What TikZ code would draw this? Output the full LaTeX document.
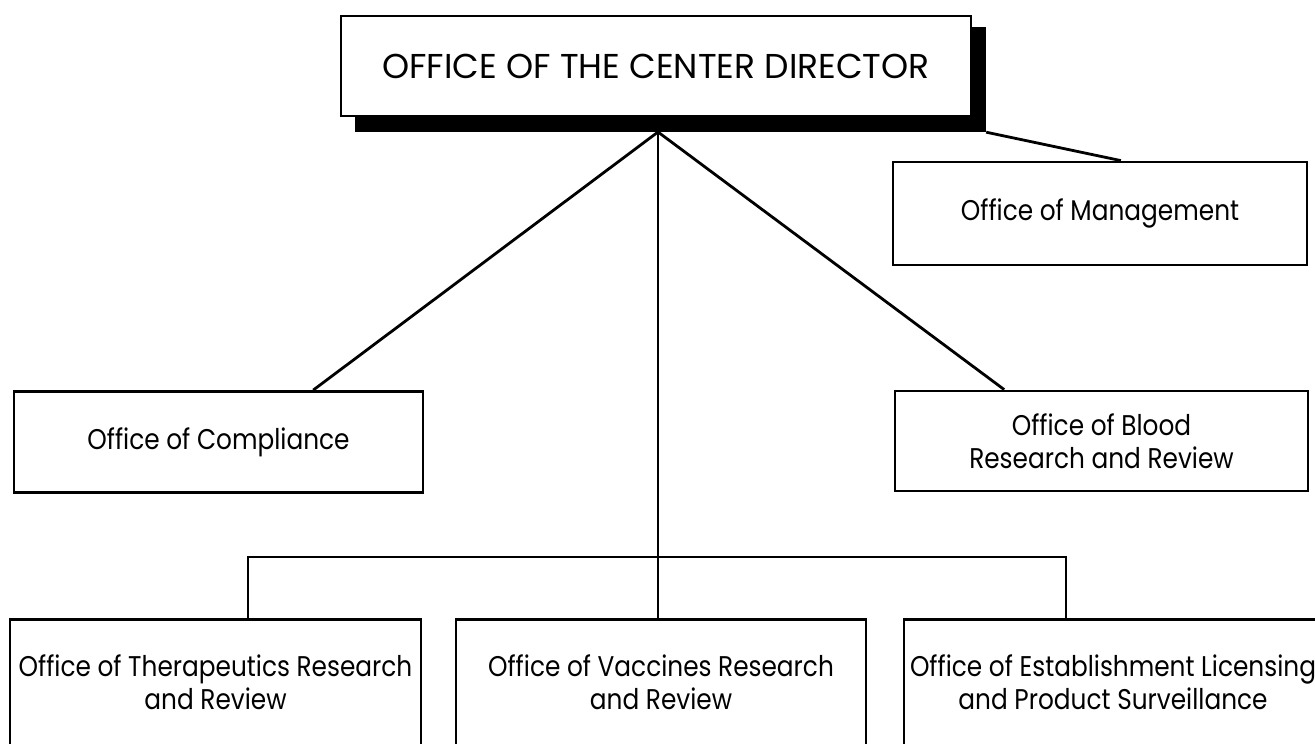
\documentclass[tikz,border=0pt]{standalone}
\usepackage{fontspec}
\setmainfont{Poppins}
\newfontfamily\orgfont[FakeStretch=0.87]{Poppins}
\newfontfamily\headfont[FakeStretch=1.0]{Poppins}
\usetikzlibrary{calc}
\begin{document}
\begin{tikzpicture}[x=1pt,y=-1pt,
  orgbox/.style={draw, line width=2.8pt, fill=white, rectangle, inner sep=0pt,
    align=center, font=\orgfont\fontsize{28.5}{33}\selectfont},
  topbox/.style={orgbox, font=\headfont\fontsize{34.5}{40}\selectfont},
  shadowbox/.style={fill=black, rectangle, inner sep=0pt},
  link/.style={line width=2.8pt, line cap=butt},
]
\useasboundingbox (0,0) rectangle (1315,744);
\fill[white] (0,0) rectangle (1315,744);

% director box with its drop shadow
\node[shadowbox, minimum width=631pt, minimum height=105pt] (dirshadow) at (670.5,79.5) {};
\node[topbox, minimum width=630pt, minimum height=100pt] (dir) at (656,66) {OFFICE OF THE CENTER DIRECTOR};
\coordinate (apex) at (658,132);

% second tier
\node[orgbox, minimum width=414pt, minimum height=103pt] (mgmt) at (1100,213.5) {Office of Management};
\node[orgbox, minimum width=409pt, minimum height=101pt] (comp) at (218.5,442) {Office of Compliance};
\node[orgbox, minimum width=413pt, minimum height=100pt] (blood) at (1101.5,441) {Office of Blood\\Research and Review};

% third tier (boxes run past the lower edge)
\node[orgbox, anchor=north, minimum width=411pt, minimum height=126pt] (ther) at (215.5,618) {Office of Therapeutics Research\\and Review};
\node[orgbox, anchor=north, minimum width=410pt, minimum height=126pt] (vacc) at (661,618) {Office of Vaccines Research\\and Review};
\node[orgbox, anchor=north, minimum width=418pt, minimum height=126pt] (estab) at (1113,618) {Office of Establishment Licensing\\and Product Surveillance};

% connectors
\draw[link] (dirshadow.south east) -- ($(mgmt.north west)!0.55!(mgmt.north east)$);
\draw[link] (apex) -- ($(comp.north west)!0.73!(comp.north east)$);
\draw[link] (apex) -- ($(blood.north west)!0.266!(blood.north east)$);
\draw[link] (apex) -- (apex |- vacc.north);
\coordinate (busL) at (248,557);
\coordinate (busR) at (1066,557);
\draw[link] (busL |- ther.north) -- (busL) -- (busR) -- (busR |- estab.north);
\end{tikzpicture}
\end{document}
